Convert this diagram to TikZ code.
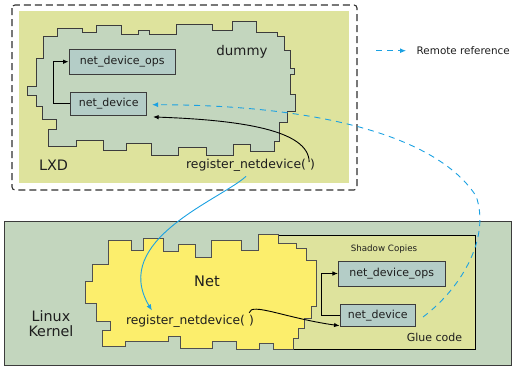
\documentclass[tikz,border=0pt]{standalone}
\usepackage{fontspec}
\setmainfont{DejaVu Sans}
\usetikzlibrary{arrows.meta,calc}
\definecolor{lxdfill}{RGB}{222,227,157}
\definecolor{grnfill}{RGB}{195,214,190}
\definecolor{boxfill}{RGB}{180,205,199}
\definecolor{netfill}{RGB}{252,238,108}
\definecolor{edgecol}{RGB}{60,60,60}
\definecolor{txtcol}{RGB}{30,30,30}
\definecolor{refblue}{RGB}{27,161,226}
\tikzset{
  fz/.style={font=\fontsize{#1}{#1}\selectfont},
  lbl/.style={inner sep=0pt, text=txtcol},
  devbox/.style={draw=edgecol, fill=boxfill, line width=0.8pt, inner sep=0pt, text=txtcol, fz=11},
  blob/.style={draw=edgecol, line width=0.8pt},
  arr/.style={-{Latex[length=5.5pt,width=4.5pt]}, line width=0.9pt, black},
  remote/.style={refblue, dash pattern=on 6pt off 5pt, line width=0.9pt, -{Latex[length=6pt,width=5pt]}},
  callref/.style={refblue, line width=0.9pt, -{Latex[length=6pt,width=5pt]}}
}
\begin{document}
\begin{tikzpicture}[x=1pt,y=-1pt]
\useasboundingbox (0,0) rectangle (516,367);
% ---------------- LXD ----------------
\draw[edgecol!80!black, line width=1.1pt, dash pattern=on 7pt off 4pt, rounded corners=3pt] (12,5) rectangle (357,190);
\fill[lxdfill] (19,11) rectangle (349,183);
\draw[blob, fill=grnfill] (43.3,36) -- (57.3,36) -- (57.3,28.3) -- (82.7,28.3) -- (82.7,32.7) -- (96.7,32.7) -- (96.7,25.7) -- (121,25.7) -- (121,34.3) -- (138.3,34.3) -- (138.3,30.7) -- (149.3,30.7) -- (149.3,34.3) -- (176,34.3) -- (176,24) -- (212.7,24) -- (212.7,30) -- (232.7,30) -- (232.7,21.7) -- (256.5,21.7) -- (256.5,32) -- (277.3,32) -- (277.3,36.5) -- (284.5,36.5) -- (284.5,50.5) -- (290.5,50.5) -- (290.5,68.3) -- (294.5,68.3) -- (294.5,74.5) -- (290.5,74.5) -- (290.5,94) -- (295,94) -- (295,111) -- (287.5,111) -- (287.5,122.5) -- (279.3,122.5) -- (279.3,141) -- (274.5,141) -- (274.5,151.5) -- (250,151.5) -- (250,144.3) -- (233.3,144.3) -- (233.3,155.5) -- (206,155.5) -- (206,147) -- (178.7,147) -- (178.7,155) -- (151.7,155) -- (151.7,143.7) -- (126.5,143.7) -- (126.5,150) -- (103.7,150) -- (103.7,140.7) -- (76,140.7) -- (76,146.7) -- (48.3,146.7) -- (48.3,129.3) -- (56.7,129.3) -- (56.7,119.7) -- (42.7,119.7) -- (42.7,106.7) -- (36,106.7) -- (36,95) -- (27.7,95) -- (27.7,86.7) -- (36,86.7) -- (36,58.3) -- (43.3,58.3) -- cycle;
\node[devbox, minimum width=106.7pt, minimum height=24.7pt] (ops) at (122.3,61.7) {net\_device\_ops};
\node[devbox, minimum width=76pt, minimum height=22.7pt] (ndv) at (108.7,103.7) {net\_device};
\node[lbl, fz=13.4] (dummy) at (242,52) {dummy};
\node[lbl, fz=14.4] (lxd) at (53.5,165) {LXD};
\node[lbl, fz=12.4] (lreg) at (250.5,165) {register\_netdevice(\,\,)};
\draw[arr] (ndv.west) -- ++(-17,0) |- (ops.west);
\coordinate (lregs) at ($(lreg.east)+(-6,-3)$);
\coordinate (ndvse) at ($(ndv.south east)+(6,1.5)$);
\draw[arr] (lregs) .. controls (309,130) and (240,120) .. (ndvse);
% ---------------- Linux kernel ----------------
\draw[edgecol, line width=0.8pt, fill=grnfill] (4.7,221.7) rectangle (511,365);
\node[lbl, fz=14.3, align=center] (lk) at (51,324) {Linux\\[1pt]Kernel};
\draw[black, line width=0.8pt, fill=lxdfill] (276,235) rectangle (475.7,349);
\draw[blob, fill=netfill, draw=edgecol!90] (108.3,240.7) -- (131,240.7) -- (131,250.3) -- (143.3,250.3) -- (143.3,238.7) -- (163.3,238.7) -- (163.3,251.3) -- (178.3,251.3) -- (178.3,244) -- (195,244) -- (195,257) -- (211,257) -- (211,240.7) -- (241.7,240.7) -- (241.7,250) -- (258.3,250) -- (258.3,234.7) -- (278.3,234.7) -- (278.3,243.7) -- (296.7,243.7) -- (296.7,248) -- (306,248) -- (306,260.5) -- (316.5,260.5) -- (316.5,306.7) -- (311.7,306.7) -- (311.7,318.3) -- (304,318.3) -- (304,328) -- (298.5,328) -- (298.5,338.3) -- (293.5,338.3) -- (293.5,349) -- (273.3,349) -- (273.3,343.3) -- (259,343.3) -- (259,349) -- (236.7,349) -- (236.7,341) -- (212.7,341) -- (212.7,348.3) -- (180,348.3) -- (180,336.7) -- (168.3,336.7) -- (168.3,341) -- (125,341) -- (125,346.7) -- (102.7,346.7) -- (102.7,330) -- (110,330) -- (110,321.7) -- (96,321.7) -- (96,303.3) -- (85,303.3) -- (85,281.7) -- (92.7,281.7) -- (92.7,264.7) -- (108.3,264.7) -- cycle;
\node[lbl, fz=14.6] (net) at (207,281) {Net};
\node[lbl, fz=12.3] (nreg) at (190,320.8) {register\_netdevice(\,\,)};
\node[lbl, fz=8.7] (shadow) at (384,249) {Shadow Copies};
\node[lbl, fz=11] (glue) at (434.5,337.3) {Glue code};
\node[devbox, minimum width=106.7pt, minimum height=25pt] (gops) at (391.7,273.5) {net\_device\_ops};
\node[devbox, minimum width=75.7pt, minimum height=22.4pt] (gnd) at (377.8,315.5) {net\_device};
\draw[arr] (gnd.west) -- ++(-18,0) |- (gops.west);
\coordinate (nregs) at ($(nreg.east)+(-5,-8)$);
\draw[arr] (nregs) .. controls (251,302) and (285,318) .. (gnd.195);
% ---------------- references ----------------
\coordinate (lregb) at ($(lreg.south)+(-4.5,5)$);
\coordinate (nregt) at ($(nreg.north west)+(26,-4)$);
\draw[callref] (lregb) .. controls (220,200) and (110,240) .. (nregt);
\coordinate (gnde) at ($(gnd.east)+(7,1.5)$);
\coordinate (rr) at (476,196);
\coordinate (ndve) at ($(ndv.east)+(5,1)$);
\draw[remote] (gnde) .. controls (465,285) and (490,235) .. (rr) .. controls (440,140) and (330,105) .. (ndve);
% legend
\coordinate (lga) at (376,50.7);
\coordinate (lgb) at (406,50.7);
\draw[remote] (lga) -- (lgb);
\node[lbl, fz=10.4, anchor=west] (lgt) at (416.5,50.7) {Remote reference};
\end{tikzpicture}
\end{document}
